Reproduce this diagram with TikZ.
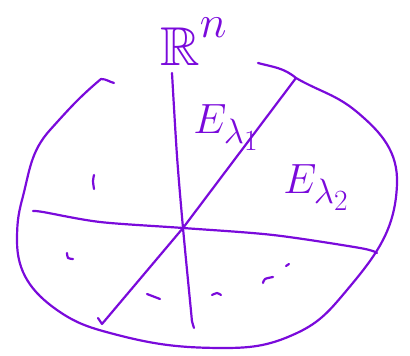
\documentclass[tikz,border=0pt]{standalone}
\usepackage{amssymb}
\usepackage{xcolor}
\definecolor{penV}{HTML}{7A0ADB}
\tikzset{
  pen/.style={draw=penV, line width=2.2pt, line cap=round, line join=round},
  hand/.style={text=penV, inner sep=0pt, font=\Huge, anchor=base west},
  bigtext/.style={hand, scale=2.2},
  midtext/.style={hand, scale=1.7}
}

\begin{document}
\begin{tikzpicture}[x=1pt,y=1pt]
\useasboundingbox (0,0) rectangle (410,356);

% the space, drawn as an open blob
\draw[pen] (114,273) to[out=165,in=0] (101,277)
  to[out=-140,in=48] (50,226)
  to[out=-132,in=75] (22,156)
  to[out=-105,in=90] (17,115)
  to[out=-90,in=145] (57,46)
  to[out=-35,in=165] (110,23)
  to[out=-15,in=180] (225,8)
  to[out=0,in=-155] (297,23)
  to[out=25,in=-130] (347,66)
  to[out=50,in=-92] (397,172)
  to[out=88,in=-40] (357,244)
  to[out=140,in=-30] (296,278)
  to[out=140,in=-15] (258,293);

\coordinate (o) at (183,128);

% the three lines through the origin
\draw[pen] plot[smooth, tension=0.5] coordinates {(172,283) (177,200) (o) (191,45) (192,35) (194,28)};
\draw[pen] plot[smooth, tension=0.5] coordinates {(33,145) (43,144) (100,134) (o) (273,121) (360,108) (377,103)};
\draw[pen] (296,278) -- (o) -- (102,32) -- (98,38);

% little marks
\draw[pen] plot[smooth] coordinates {(94,181) (93,175) (94,167)};
\draw[pen] plot[smooth] coordinates {(67,103) (68,98) (73,97)};
\draw[pen] (147,62) -- (160,57);
\draw[pen] plot[smooth] coordinates {(212,61) (217,63) (221,61)};
\draw[pen] plot[smooth] coordinates {(263,73) (265,77) (273,79)};
\draw[pen] (286,90) -- (289,92);

% labels
\node[bigtext] (space) at (160,290) {$\mathbb{R}^{\raisebox{4pt}{$\scriptstyle n$}}$};
\node[midtext] (eig1) at (193,222) {$E_{\lambda_1}$};
\node[midtext] (eig2) at (283,162) {$E_{\lambda_2}$};

\end{tikzpicture}
\end{document}
